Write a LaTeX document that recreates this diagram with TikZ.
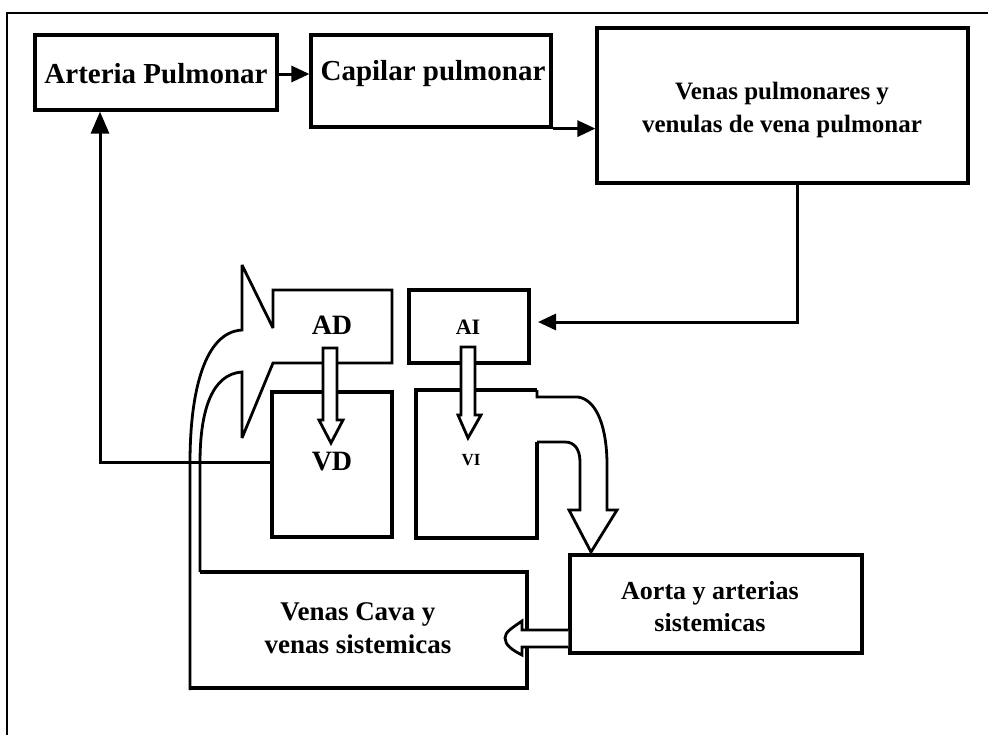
\documentclass[tikz,border=0pt]{standalone}
\usepackage{fontspec}
\setmainfont{Liberation Serif}
\usetikzlibrary{arrows.meta}
\begin{document}
\begin{tikzpicture}[x=1pt,y=-1pt,
  box/.style={draw, line width=3.2pt, inner sep=0pt},
  txt/.style={inner sep=0pt, align=center, font=\bfseries\fontsize{#1}{#1}\selectfont},
  txt/.default=28,
  conn/.style={line width=3pt, -{Triangle[length=18pt,width=16pt]}},
  hollow/.style={draw, line width=2.8pt, fill=white, line join=miter, miter limit=4},
  outline/.style={line width=3.2pt, line join=miter}]
\useasboundingbox (0,0) rectangle (988,734);
% frame (cropped)
\draw[line width=2pt] (7,740) -- (7,13) -- (995,13);
% boxes
\node[box, minimum width=242pt, minimum height=75pt] (ap) at (156,72.5) {};
\node[txt=29] (apt) at (156,74) {Arteria Pulmonar};
\node[box, minimum width=240pt, minimum height=92pt] (cp) at (431,81) {};
\node[txt=29] (cpt) at (433,74) {Capilar pulmonar};
\node[box, minimum width=371pt, minimum height=155pt] (vp) at (782.5,105.5) {};
\node[txt=25] (vpt) at (782,110) {Venas pulmonares y\\[8pt]venulas de vena pulmonar};
\node[box, minimum width=120pt, minimum height=73pt] (ai) at (469,326.5) {};
\node[txt=22] (ait) at (468,327) {AI};
\node[box, minimum width=292pt, minimum height=98pt] (ao) at (716,604) {};
\node[txt=26] (aot) at (710,607) {Aorta y arterias\\[6pt]sistemicas};
% VI box (right edge opens into the curved arrow)
\coordinate (vitl) at (416,390);
\draw[outline] (537,442) -- (537,538) -- (416,538) -- (vitl) -- (537,390);
\node[txt=17] (vit) at (471,460) {VI};
% VD box
\node[box, minimum width=120pt, minimum height=145pt] (vd) at (332,464.5) {};
\node[txt=28] (vdt) at (332,462) {VD};
% Venas cava box
\coordinate (vctl) at (200,572);
\draw[outline] (vctl) -- (527,572) -- (527,688) -- (190,688);
\node[txt=27] (vct) at (358,628) {Venas Cava y\\[6pt]venas sistemicas};
% curved arrow from venas cava into AD (with AD box open on its left)
\draw[hollow] (190,690) -- (190,463)
  .. controls (190,390) and (205,332) .. (242,330)
  -- (242,265) -- (273,328) -- (273,290) -- (392,290) -- (392,363) -- (273,363)
  -- (242,438) -- (242,372)
  .. controls (212,374) and (200,410) .. (200,463) -- (vctl);
\node[txt=28] (adt) at (332,325) {AD};
% curved arrow from VI to aorta
\draw[hollow] (537,390) -- (537,397) -- (578,397)
  .. controls (598,400) and (607,430) .. (607,465)
  -- (607,510) -- (617,510) -- (591,552) -- (569,510) -- (580,510)
  -- (580,462) .. controls (580,450) and (575,442) .. (565,442) -- (537,442);
% hollow arrows AD->VD and AI->VI
\draw[hollow] (323,348) -- (323,420) -- (319,420) -- (331,443) -- (343,420) -- (337,420) -- (337,348) -- cycle;
\draw[hollow] (461,347) -- (461,415) -- (458,415) -- (468,438) -- (481,415) -- (475,415) -- (475,347) -- cycle;
% hollow arrow aorta -> venas cava
\draw[hollow] (ao.west |- 0,630) -- (522,630) -- (522,621)
  .. controls (512,628) and (505,632) .. (505,638)
  .. controls (505,645) and (512,650) .. (522,655)
  -- (522,647) -- (ao.west |- 0,647);
% connectors
\draw[conn] (ap.east |- 0,74) -- (cp.west |- 0,74);
\draw[conn] (cp.south east) -- (vp.west |- cp.south east);
\coordinate (vpbot) at (797,183);
\coordinate (aiin) at (538,322);
\draw[conn] (vpbot) -- (797,322) -- (aiin);
\coordinate (vdl) at (272,462);
\draw[line width=3pt, -{Triangle[length=22pt,width=18pt]}] (vdl) -- (100,462) -- (ap.south -| 100,0);
\end{tikzpicture}
\end{document}
